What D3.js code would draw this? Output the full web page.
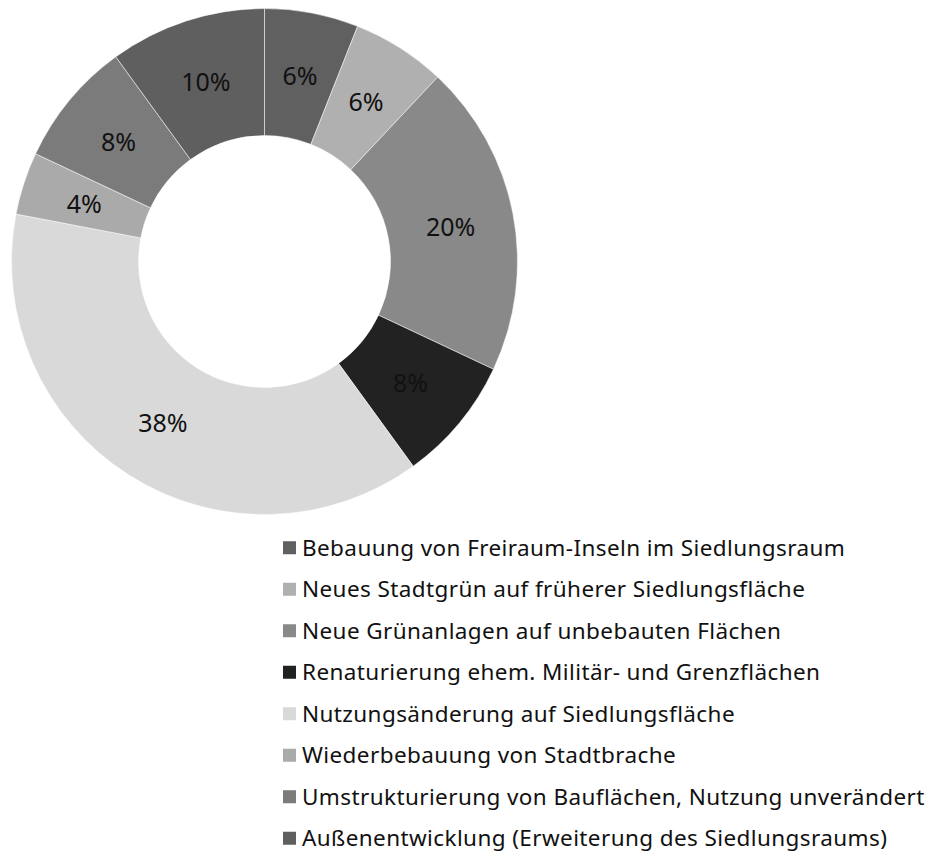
<!DOCTYPE html>
<html><head><meta charset="utf-8">
<script src="https://cdn.jsdelivr.net/npm/d3@7"></script>
<style>body{margin:0;background:#fff;} svg{display:block;}</style>
</head><body>
<svg id="chart" width="932" height="862"></svg>
<script>
const categories = [
  "Bebauung von Freiraum-Inseln im Siedlungsraum",
  "Neues Stadtgrün auf früherer Siedlungsfläche",
  "Neue Grünanlagen auf unbebauten Flächen",
  "Renaturierung ehem. Militär- und Grenzflächen",
  "Nutzungsänderung auf Siedlungsfläche",
  "Wiederbebauung von Stadtbrache",
  "Umstrukturierung von Bauflächen, Nutzung unverändert",
  "Außenentwicklung (Erweiterung des Siedlungsraums)"
];
const values = [6, 6, 20, 8, 38, 4, 8, 10];
const colors = ["#606060", "#b0b0b0", "#898989", "#222222", "#d9d9d9", "#aaaaaa", "#7b7b7b", "#5f5f5f"];

const svg = d3.select("#chart");
const cx = 264.5, cy = 261.5, rOut = 253, rIn = 126;
const font = "'Noto Sans', 'Open Sans', sans-serif";

const pie = d3.pie().value(d => d).sort(null);
const arc = d3.arc().innerRadius(rIn).outerRadius(rOut);
const arcs = pie(values);
const g = svg.append("g").attr("transform", `translate(${cx},${cy})`);
g.selectAll("path").data(arcs).join("path")
  .attr("d", arc)
  .attr("fill", (d, i) => colors[i])
  .attr("stroke", "#ffffff").attr("stroke-width", 0.5);
g.selectAll("text").data(arcs).join("text")
  .attr("transform", d => `translate(${arc.centroid(d)})`)
  .attr("text-anchor", "middle").attr("dy", "0.4em")
  .style("font-family", font).style("font-size", "25px").attr("fill", "#111")
  .text(d => d.data + "%");

const legend = svg.append("g");
const ly = d3.scaleBand().domain(categories).range([527, 859]);
const items = legend.selectAll("g").data(categories).join("g")
  .attr("transform", d => `translate(283,${ly(d) + ly.bandwidth()/2})`);
items.append("rect").attr("x", 0).attr("y", -6.5).attr("width", 13).attr("height", 13)
  .attr("fill", (d, i) => colors[i]);
items.append("text").attr("x", 19).attr("dy", "0.35em")
  .style("font-family", font).style("font-size", "22.5px").style("letter-spacing", "0.4px")
  .attr("fill", "#111")
  .text(d => d);
</script>
</body></html>
